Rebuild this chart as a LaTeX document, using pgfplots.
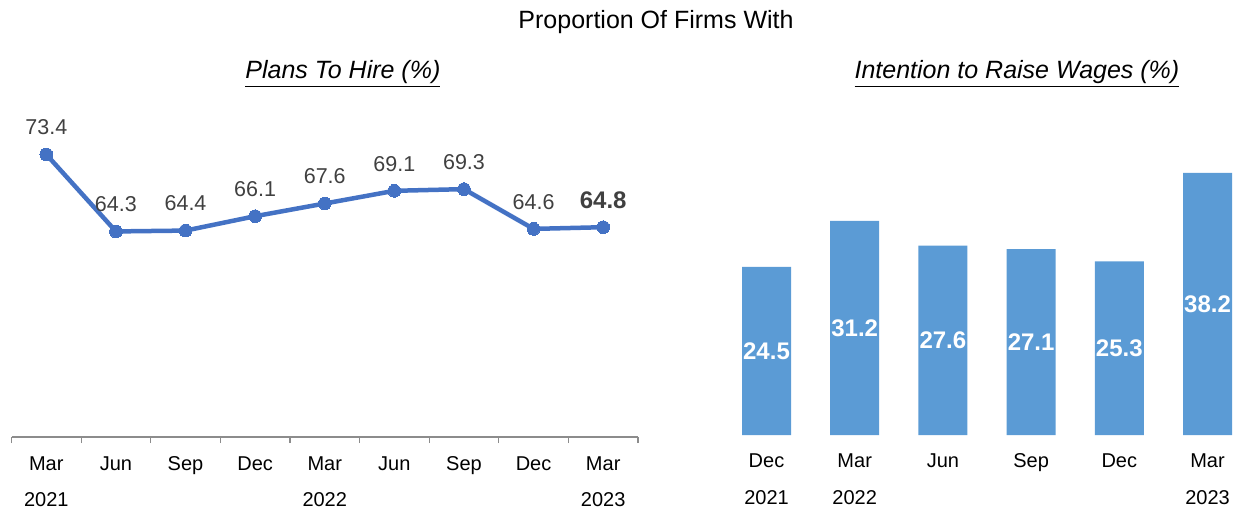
\documentclass[border=0pt]{standalone}
\usepackage{fontspec}
\setmainfont{Liberation Sans}
\usepackage{pgfplots}
\pgfplotsset{compat=1.18}
\definecolor{lineblue}{HTML}{4472C4}
\definecolor{barblue}{HTML}{5B9BD5}
\definecolor{lbl}{HTML}{404040}
\pgfplotsset{numfmt/.style={/pgf/number format/fixed, /pgf/number format/fixed zerofill,
  /pgf/number format/precision=1, /pgf/number format/assume math mode=true}}
\begin{document}
\begin{tikzpicture}
\useasboundingbox (0,0) rectangle (621pt,255pt);
\node[anchor=base,font=\fontsize{12.5}{15}\selectfont] at (328pt,240.5pt) {Proportion Of Firms With};

% plans to hire
\begin{axis}[at={(5.75pt,36.5pt)}, anchor=south west, scale only axis,
  width=313.25pt, height=169.2pt,
  xmin=-0.5, xmax=8.5, ymin=40, ymax=80,
  axis x line*=bottom, axis y line=none, ytick=\empty,
  x axis line style={black!45, line width=0.6pt},
  xtick={0,...,8}, xticklabels={Mar,Jun,Sep,Dec,Mar,Jun,Sep,Dec,Mar},
  major tick length=0pt, minor tick length=3pt, tick align=outside,
  minor xtick={-0.5,0.5,...,8.5}, minor x tick style={black!45, line width=0.6pt},
  extra x ticks={0,4,8}, extra x tick labels={2021,2022,2023},
  extra x tick style={tick label style={yshift=-18pt}},
  x tick label style={anchor=base, yshift=-16.6pt, font=\fontsize{10}{12}\selectfont},
  title={\underline{\itshape Plans To Hire (\%)}},
  title style={at={(0.529,1)}, anchor=base, yshift=4pt, font=\fontsize{12.5}{15}\selectfont},
  clip=false, numfmt]
\addplot[lineblue, line width=2.25pt, mark=*, mark size=3.2pt,
  mark options={solid, fill=lineblue, draw=lineblue, line width=0pt}]
  coordinates {(0,73.4) (1,64.3) (2,64.4) (3,66.1) (4,67.6) (5,69.1) (6,69.3) (7,64.6) (8,64.8)};
\addplot[draw=none, nodes near coords,
  every node near coord/.append style={anchor=center, yshift=13.5pt, text=lbl, font=\fontsize{10.75}{13}\selectfont}]
  coordinates {(0,73.4) (1,64.3) (2,64.4) (3,66.1) (4,67.6) (5,69.1) (6,69.3) (7,64.6)};
\addplot[draw=none, nodes near coords,
  every node near coord/.append style={anchor=center, yshift=13.5pt, text=lbl, font=\bfseries\fontsize{12}{14}\selectfont}]
  coordinates {(8,64.8)};
\end{axis}

% intention to raise wages
\begin{axis}[at={(361.2pt,37.5pt)}, anchor=south west, scale only axis,
  width=260.2pt, height=171.5pt,
  xmin=-0.5, xmax=5.4, ymin=0, ymax=50,
  axis x line*=bottom, axis y line=none, ytick=\empty,
  x axis line style={draw=none},
  xtick={0,...,5}, xticklabels={Dec,Mar,Jun,Sep,Dec,Mar},
  major tick length=0pt,
  extra x ticks={0,1,5}, extra x tick labels={2021,2022,2023},
  extra x tick style={tick label style={yshift=-18.5pt}},
  x tick label style={anchor=base, yshift=-16.1pt, font=\fontsize{10}{12}\selectfont},
  title={\underline{\itshape Intention to Raise Wages (\%)}},
  title style={at={(0.566,1)}, anchor=base, yshift=0.7pt, font=\fontsize{12.5}{15}\selectfont},
  clip=false, numfmt]
\addplot[ybar, bar width=24.5pt, fill=barblue, draw=none,
  visualization depends on={y \as \rawy},
  nodes near coords,
  every node near coord/.append style={anchor=center, yshift=-1.715pt*\rawy, text=white,
    font=\bfseries\fontsize{12}{14}\selectfont}]
  coordinates {(0,24.5) (1,31.2) (2,27.6) (3,27.1) (4,25.3) (5,38.2)};
\end{axis}
\end{tikzpicture}
\end{document}
